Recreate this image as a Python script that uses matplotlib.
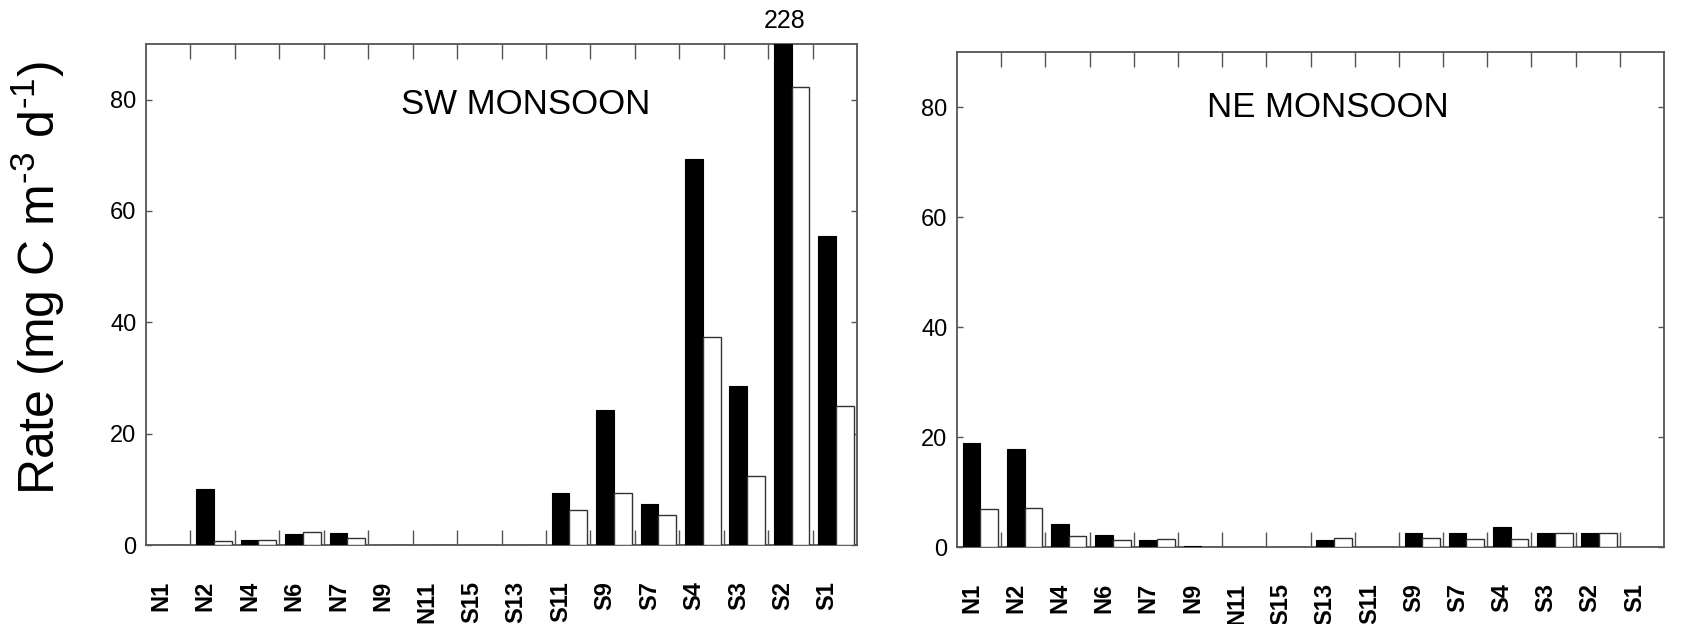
import matplotlib
matplotlib.use("Agg")
import matplotlib.pyplot as plt
import numpy as np

# ---- data ----
sw_stations = ["N1", "N2", "N4", "N6", "N7", "N9", "N11", "S15", "S13", "S11",
               "S9", "S7", "S4", "S3", "S2", "S1"]
ne_stations = ["N1", "N2", "N4", "N6", "N7", "N9", "N11", "S15", "S13", "S11",
               "S9", "S7", "S4", "S3", "S2", "S1"]
sw_black = [0, 10.0, 0.9, 2.0, 2.1, 0, 0, 0, 0, 9.3, 24.3, 7.4, 69.3, 28.5, 228, 55.5]
sw_white = [0, 0.7, 0.9, 2.3, 1.3, 0, 0, 0, 0, 6.3, 9.3, 5.4, 37.3, 12.4, 82.3, 25.0]
ne_black = [18.9, 17.9, 4.1, 2.1, 1.2, 0.2, 0, 0, 1.3, 0, 2.5, 2.5, 3.6, 2.6, 2.6, 0]
ne_white = [7.0, 7.1, 2.0, 1.3, 1.4, 0, 0, 0, 1.6, 0, 1.6, 1.5, 1.5, 2.6, 2.6, 0]
yticks = [0, 20, 40, 60, 80]
ymax = 90

plt.rcParams['font.family'] = ['Liberation Sans', 'DejaVu Sans']

fig = plt.figure(figsize=(16.93, 6.24), dpi=100)
fig.patch.set_facecolor('white')

ax1 = fig.add_axes([146/1693, 1-545/624, (857-146)/1693, (545-44)/624])
ax2 = fig.add_axes([957/1693, 1-547/624, (1664-957)/1693, (547-52)/624])

spine_col = '#555555'

def draw(ax, stations, black, white, title, tx, ty):
    n = len(stations)
    x = np.arange(n)
    ax.bar(x - 0.37, black, width=0.40, align='edge', color='black',
           edgecolor='black', linewidth=0.8, zorder=3)
    ax.bar(x + 0.03, white, width=0.40, align='edge', color='white',
           edgecolor='#333333', linewidth=1.0, zorder=3)
    ax.set_xlim(-0.5, n - 0.5)
    ax.set_ylim(0, ymax)
    ax.set_yticks(yticks)
    ax.set_yticklabels([str(v) for v in yticks], fontsize=17)
    ax.tick_params(axis='y', direction='in', length=4, width=1, color=spine_col,
                   left=True, right=True, pad=7)
    ax.set_xticks(x - 0.17)
    ax.set_xticklabels(stations, rotation=90, fontsize=17, fontweight='bold',
                       va='top', ha='center')
    ax.tick_params(axis='x', which='major', length=0, pad=26)
    ax.set_xticks(np.arange(n - 1) + 0.5, minor=True)
    ax.tick_params(axis='x', which='minor', direction='in', length=11, width=1,
                   color=spine_col, top=True, bottom=True)
    for s in ax.spines.values():
        s.set_color(spine_col)
        s.set_linewidth(1.3)
    ax.text(tx, ty, title, transform=ax.transAxes, fontsize=25,
            ha='center', va='center')

draw(ax1, sw_stations, sw_black, sw_white, "SW MONSOON", 0.534, 0.88)
draw(ax2, ne_stations, ne_black, ne_white, "NE MONSOON", 0.525, 0.887)

# label clipped bar
imax = int(np.argmax(sw_black))
ax1.annotate(f"{sw_black[imax]:.0f}", xy=(imax - 0.12, ymax), xytext=(0, 8),
             textcoords='offset points', ha='center', va='bottom',
             fontsize=18, annotation_clip=False)

fig.text(38/1693, 1-278/624,
         'Rate (mg C m$^{\\mathregular{\u20103}}$ d$^{\\mathregular{\u20101}}$)',
         rotation=90, fontsize=36, ha='center', va='center')

fig.savefig("out.png", dpi=100, facecolor='white')
